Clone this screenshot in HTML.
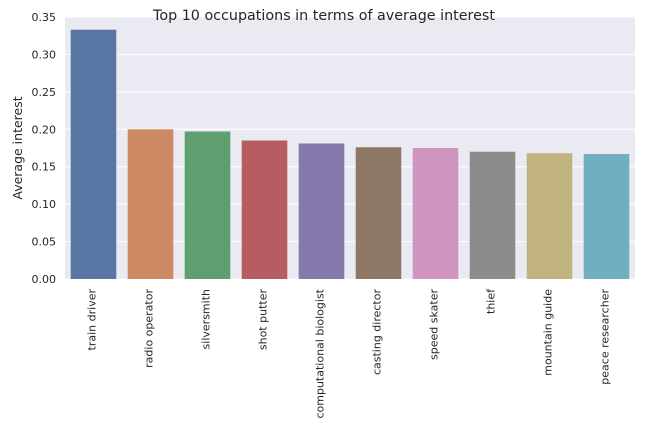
<!DOCTYPE html>
<html><head><meta charset="utf-8"><style>
body{margin:0;background:#fff;font-family:"DejaVu Sans","Liberation Sans",sans-serif}
</style></head><body>
<svg id="chart" width="648" height="432" xmlns="http://www.w3.org/2000/svg" font-family="DejaVu Sans, Liberation Sans, sans-serif"></svg>
<script>
const categories=["train driver","radio operator","silversmith","shot putter","computational biologist","casting director","speed skater","thief","mountain guide","peace researcher"];
const values=[0.333,0.200,0.197,0.185,0.181,0.176,0.175,0.170,0.168,0.167];
const colors=["#5975a4","#cc8963","#5f9e6e","#b55d60","#857aab","#8d7866","#d095bf","#8c8c8c","#c1b37f","#71aec0"];
const yTicks=[0,0.05,0.1,0.15,0.2,0.25,0.3,0.35];
const NS="http://www.w3.org/2000/svg";
const svg=document.getElementById('chart');
const L=65,R=635,T=17,B=279,yMax=0.35;
const y=v=>B-(v/yMax)*(B-T);
const band=(R-L)/categories.length;
const x=i=>L+band*i;
function mk(t,a,p){const e=document.createElementNS(NS,t);for(const k in a)e.setAttribute(k,a[k]);(p||svg).appendChild(e);return e;}
const bg=mk('rect',{x:L,y:T,width:R-L,height:B-T,fill:'#eaeaf2'});


yTicks.forEach(t=>{
 const g=mk('line',{x1:L,x2:R,y1:y(t),y2:y(t),stroke:'#fff','stroke-width':1});
 
 
 const tx=mk('text',{x:L-9,y:y(t)+4,'text-anchor':'end','font-size':11,fill:'#262626'});
 tx.textContent=t.toFixed(2);
 
 
});
categories.forEach((c,i)=>{
 const w=band*0.8,bx=x(i)+band*0.1;
 const r=mk('rect',{x:bx,y:y(values[i]),width:w,height:B-y(values[i]),fill:colors[i]});
 
 
 const cx=x(i)+band/2+2;
 const tx=mk('text',{x:cx,y:B+10,'text-anchor':'end','font-size':11,fill:'#262626',transform:`rotate(-90 ${cx} ${B+10})`});
 tx.textContent=c;
 
 
});
const yl=mk('text',{x:22,y:(T+B)/2,'text-anchor':'middle','font-size':12.5,fill:'#262626',transform:`rotate(-90 22 ${(T+B)/2})`});
yl.textContent='Average interest';


const ti=mk('text',{x:324,y:20,'text-anchor':'middle','font-size':14.3,fill:'#262626'});
ti.textContent='Top 10 occupations in terms of average interest';


</script>
</body></html>
